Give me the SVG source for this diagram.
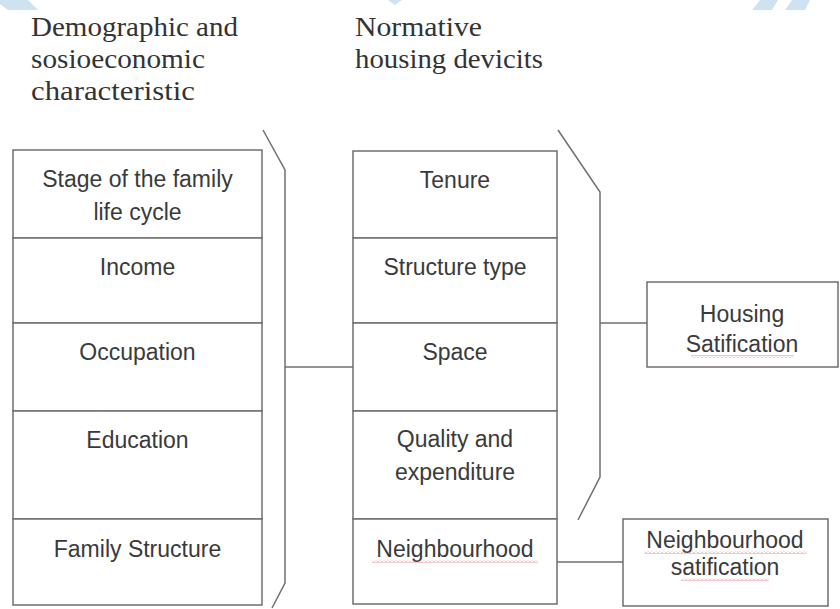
<svg xmlns="http://www.w3.org/2000/svg" width="840" height="609" viewBox="0 0 840 609">
<defs>
<style>
.cell{fill:#fff;stroke:#6f6f6f;stroke-width:1.5}
.box{fill:#fff;stroke:#6f6f6f;stroke-width:1.5}
.ln{fill:none;stroke:#6f6f6f;stroke-width:1.5}
.t{font-family:"Liberation Sans",Arial,sans-serif;font-size:23px;fill:#3a3a3a;text-anchor:middle}
.h{font-family:"Liberation Serif","Times New Roman",serif;font-size:27px;fill:#333}
.wm{fill:#cfe2f1}
.wavy{fill:none;stroke:#e07a7a;stroke-width:1;opacity:0.8}
</style>
<pattern id="zig" width="4" height="3" patternUnits="userSpaceOnUse">
<path d="M0,2.5 L2,0.5 L4,2.5" class="wavy"/>
</pattern>
</defs>
<rect width="840" height="609" fill="#fff"/>
<g id="watermark">
<polygon class="wm" points="0,0 28,0 38,10 8,10 0,4"/>
<polygon class="wm" points="760,0 778,0 772,10 752,10"/>
<polygon class="wm" points="792,0 810,0 805,10 785,10"/>
<polygon class="wm" points="388,0 402,0 395,5"/>
</g>
<g id="header-demographic">
<text class="h" x="31" y="36" textLength="207" lengthAdjust="spacingAndGlyphs">Demographic and</text>
<text class="h" x="31" y="68" textLength="174" lengthAdjust="spacingAndGlyphs">sosioeconomic</text>
<text class="h" x="31" y="100" textLength="164" lengthAdjust="spacingAndGlyphs">characteristic</text>
</g>
<g id="header-normative">
<text class="h" x="355" y="36" textLength="127" lengthAdjust="spacingAndGlyphs">Normative</text>
<text class="h" x="355" y="68" textLength="188" lengthAdjust="spacingAndGlyphs">housing devicits</text>
</g>
<g id="connectors">
<polyline class="ln" points="263,130 285,170 285,583 272,608"/>
<polyline class="ln" points="558,130 600,192 600,477 578,520"/>
<line class="ln" x1="285" y1="367" x2="353" y2="367"/>
<line class="ln" x1="600" y1="323" x2="647" y2="323"/>
<line class="ln" x1="557" y1="562" x2="623" y2="562"/>
</g>
<g id="stage">
<rect class="cell" x="13" y="150" width="249" height="88"/>
<text class="t" x="137.5" y="187">Stage of the family</text>
<text class="t" x="137.5" y="220">life cycle</text>
</g>
<g id="income">
<rect class="cell" x="13" y="238" width="249" height="85"/>
<text class="t" x="137.5" y="275">Income</text>
</g>
<g id="occupation">
<rect class="cell" x="13" y="323" width="249" height="88"/>
<text class="t" x="137.5" y="360">Occupation</text>
</g>
<g id="education">
<rect class="cell" x="13" y="411" width="249" height="108"/>
<text class="t" x="137.5" y="448">Education</text>
</g>
<g id="family-structure">
<rect class="cell" x="13" y="519" width="249" height="86"/>
<text class="t" x="137.5" y="557">Family Structure</text>
</g>
<g id="tenure">
<rect class="cell" x="353" y="151" width="204" height="87"/>
<text class="t" x="455" y="188">Tenure</text>
</g>
<g id="structure-type">
<rect class="cell" x="353" y="238" width="204" height="85"/>
<text class="t" x="455" y="275">Structure type</text>
</g>
<g id="space">
<rect class="cell" x="353" y="323" width="204" height="88"/>
<text class="t" x="455" y="360">Space</text>
</g>
<g id="quality">
<rect class="cell" x="353" y="411" width="204" height="108"/>
<text class="t" x="455" y="447">Quality and</text>
<text class="t" x="455" y="480">expenditure</text>
</g>
<g id="neighbourhood">
<rect class="cell" x="353" y="519" width="204" height="85"/>
<text class="t" x="455" y="557">Neighbourhood</text>
<rect x="372" y="560" width="166" height="3" fill="url(#zig)"/>
</g>
<g id="housing-satification">
<rect class="box" x="647" y="282" width="191" height="85"/>
<text class="t" x="742" y="322">Housing</text>
<text class="t" x="742" y="352">Satification</text>
<rect x="691" y="355" width="103" height="3" fill="url(#zig)"/>
</g>
<g id="neighbourhood-satification">
<rect class="box" x="623" y="519" width="205" height="87"/>
<text class="t" x="725" y="548">Neighbourhood</text>
<text class="t" x="725" y="575">satification</text>
<rect x="644" y="551" width="162" height="3" fill="url(#zig)"/>
<rect x="681" y="578" width="88" height="3" fill="url(#zig)"/>
</g>
</svg>
